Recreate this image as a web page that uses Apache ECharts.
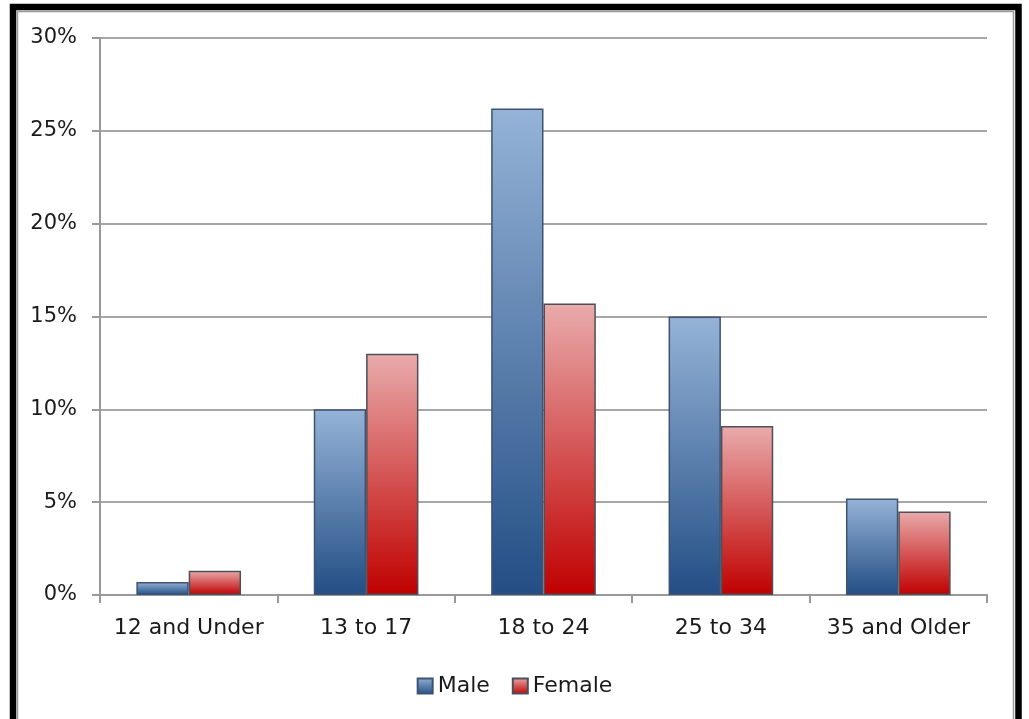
<!DOCTYPE html>
<html><head><meta charset="utf-8">
<script src="https://cdn.jsdelivr.net/npm/echarts@6/dist/echarts.min.js"></script>
<style>html,body{margin:0;padding:0;background:#fff}#c{width:1029px;height:719px}</style>
</head><body><div id="c"></div>
<script>
var categories = ['12 and Under', '13 to 17', '18 to 24', '25 to 34', '35 and Older'];
var maleValues = [0.7, 10.0, 26.2, 15.0, 5.2];
var femaleValues = [1.3, 13.0, 15.7, 9.1, 4.5];
var seriesNames = ['Male', 'Female'];

var chart = echarts.init(document.getElementById('c'), null, {renderer: 'canvas'});
var font = 'DejaVu Sans';
function grad(top, bottom) {
  return new echarts.graphic.LinearGradient(0, 0, 0, 1, [{offset: 0, color: top}, {offset: 1, color: bottom}]);
}
chart.setOption({
  animation: false,
  backgroundColor: '#fff',
  textStyle: {fontFamily: font},
  graphic: [
    {type: 'rect', shape: {x: 17.5, y: 11.5, width: 996, height: 800}, style: {fill: 'none', stroke: '#9a9a9a', lineWidth: 1.5}, silent: true},
    {type: 'rect', shape: {x: 13, y: 7, width: 1005.5, height: 800}, style: {fill: 'none', stroke: '#000', lineWidth: 6.5}, silent: true}
  ],
  grid: {left: 100, right: 42, top: 38, bottom: 124, containLabel: false},
  legend: {
    data: seriesNames,
    left: 'center',
    top: 670,
    icon: 'rect',
    itemWidth: 15,
    itemHeight: 15,
    itemGap: 22,
    textStyle: {fontFamily: font, fontSize: 22, color: '#1a1a1a'}
  },
  xAxis: {
    type: 'category',
    data: categories,
    axisLine: {lineStyle: {color: '#999', width: 2}},
    axisTick: {show: true, interval: 0, length: 8, lineStyle: {color: '#999', width: 2}},
    axisLabel: {interval: 0, hideOverlap: false, fontFamily: font, fontSize: 22, color: '#1a1a1a', margin: 22}
  },
  yAxis: {
    type: 'value',
    min: 0, max: 30, interval: 5,
    axisLine: {show: true, lineStyle: {color: '#999', width: 2}},
    axisTick: {show: true, length: 8, lineStyle: {color: '#999', width: 2}},
    axisLabel: {fontFamily: font, fontSize: 21, color: '#1a1a1a', margin: 23, formatter: '{value}%'},
    splitLine: {lineStyle: {color: '#a6a6a6', width: 2}}
  },
  series: [
    {name: seriesNames[0], type: 'bar', data: maleValues, barGap: '0%', barCategoryGap: '41%',
     itemStyle: {color: grad('#95b3d7', '#234e84'), borderColor: '#3f5270', borderWidth: 1.5}},
    {name: seriesNames[1], type: 'bar', data: femaleValues,
     itemStyle: {color: grad('#e9abab', '#c00000'), borderColor: '#4e4f58', borderWidth: 1.5}}
  ]
});
</script></body></html>
